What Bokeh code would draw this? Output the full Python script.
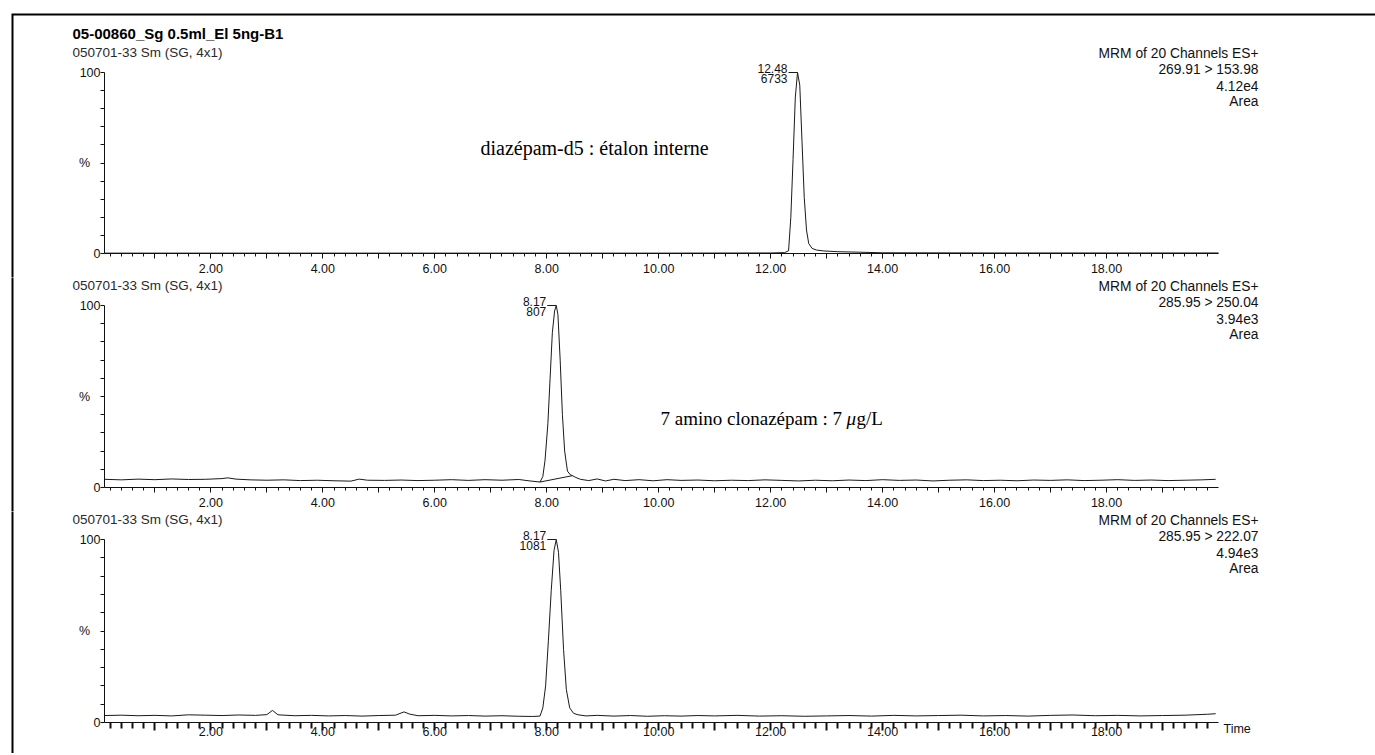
from bokeh.plotting import figure
from bokeh.models import Range1d, FixedTicker, CustomJSTickFormatter, Label
from bokeh.layouts import column
from bokeh.embed import file_html
from bokeh.resources import INLINE

# ---------------- data ----------------
sample_title = "05-00860_Sg 0.5ml_El 5ng-B1"
run_label = "050701-33 Sm (SG, 4x1)"
channel_header = "MRM of 20 Channels ES+"
transitions = ["269.91 > 153.98", "285.95 > 250.04", "285.95 > 222.07"]
intensities = ["4.12e4", "3.94e3", "4.94e3"]
peak_rt = [12.48, 8.17, 8.17]
peak_area = [6733, 807, 1081]
compound_notes = ["diazépam-d5 : étalon interne", "7 amino clonazépam : 7 ", None]

time_1 = [0.10, 2.00, 4.00, 6.00, 8.00, 10.00, 12.00,
          12.25, 12.32, 12.36, 12.40, 12.44, 12.48,
          12.52, 12.56, 12.60, 12.64, 12.68, 12.74,
          12.82, 12.95, 13.20, 13.60, 14.00, 16.00, 18.00, 20.00]
pct_1 = [0.2, 0.2, 0.2, 0.2, 0.2, 0.2, 0.3,
         0.5, 1.5, 20.0, 52.0, 86.0, 100.0,
         93.0, 62.0, 31.0, 13.0, 5.5, 2.8,
         1.9, 1.4, 1.0, 0.7, 0.4, 0.3, 0.3, 0.3]

time_2 = [0.10, 0.40, 0.70, 1.00, 1.30, 1.60, 1.90, 2.20, 2.30, 2.45,
          2.70, 3.00, 3.30, 3.60, 3.90, 4.20, 4.50, 4.65, 4.80, 5.10,
          5.40, 5.70, 6.00, 6.30, 6.60, 6.90, 7.20, 7.50, 7.70, 7.88,
          7.93, 7.97, 8.02, 8.06, 8.10, 8.14, 8.17, 8.20, 8.24, 8.28,
          8.32, 8.37, 8.42, 8.46, 8.52, 8.60, 8.75, 8.90, 9.05, 9.20,
          9.40, 9.65, 9.90, 10.15, 10.40, 10.70, 11.00, 11.30, 11.60, 11.90,
          12.20, 12.50, 12.80, 13.10, 13.40, 13.70, 14.00, 14.30, 14.60, 14.90,
          15.20, 15.50, 15.80, 16.10, 16.40, 16.70, 17.00, 17.30, 17.60, 17.90,
          18.20, 18.50, 18.80, 19.10, 19.40, 19.70, 19.95]
pct_2 = [4.5, 4.2, 4.6, 4.3, 4.7, 4.4, 4.5, 4.9, 5.3, 4.6,
         4.2, 4.0, 4.2, 3.8, 4.0, 3.7, 3.5, 4.6, 4.0, 3.9,
         4.1, 3.8, 4.0, 4.3, 3.9, 4.3, 4.0, 4.4, 3.6, 3.0,
         6.0, 15.0, 35.0, 60.0, 85.0, 97.0, 100.0, 95.0, 70.0, 40.0,
         20.0, 9.0, 7.0, 6.5, 5.5, 4.5, 3.8, 4.7, 3.6, 4.5,
         3.8, 4.3, 3.7, 4.3, 3.9, 4.1, 3.7, 4.0, 3.8, 4.2,
         3.9, 3.6, 4.0, 3.7, 4.1, 3.8, 4.3, 3.9, 4.1, 3.6,
         4.0, 4.2, 3.8, 4.0, 3.7, 4.1, 3.9, 4.2, 3.8, 4.0,
         4.3, 3.9, 4.1, 3.8, 4.0, 4.2, 4.5]
baseline_2_t = [7.88, 8.46]
baseline_2_pct = [3.0, 6.5]

time_3 = [0.10, 0.40, 0.70, 1.00, 1.30, 1.60, 1.90, 2.20, 2.50, 2.80,
          3.00, 3.10, 3.20, 3.50, 3.80, 4.10, 4.40, 4.70, 5.00, 5.30,
          5.45, 5.55, 5.70, 6.00, 6.30, 6.60, 6.90, 7.20, 7.50, 7.75,
          7.88, 7.93, 7.98, 8.03, 8.08, 8.13, 8.17, 8.21, 8.25, 8.30,
          8.35, 8.41, 8.48, 8.56, 8.70, 8.90, 9.20, 9.50, 9.80, 10.10,
          10.40, 10.70, 11.00, 11.40, 11.80, 12.20, 12.60, 13.00, 13.40, 13.80,
          14.20, 14.60, 15.00, 15.40, 15.80, 16.20, 16.60, 17.00, 17.40, 17.80,
          18.20, 18.60, 19.00, 19.40, 19.80, 19.95]
pct_3 = [3.8, 4.0, 3.7, 3.9, 3.6, 4.2, 4.0, 3.8, 4.1, 3.9,
         4.3, 6.6, 4.2, 3.7, 3.9, 3.6, 3.8, 3.5, 3.8, 4.0,
         5.8, 4.6, 3.7, 3.9, 3.6, 3.8, 3.5, 3.7, 3.4, 3.3,
         3.5, 8.0, 20.0, 45.0, 72.0, 94.0, 100.0, 93.0, 72.0, 40.0,
         18.0, 8.0, 5.0, 4.2, 3.6, 3.9, 3.5, 3.8, 3.4, 3.7,
         3.5, 3.8, 3.6, 3.9, 3.5, 3.7, 3.4, 3.6, 3.8, 3.5,
         3.9, 3.6, 3.8, 4.0, 3.6, 3.8, 3.5, 3.9, 4.1, 3.7,
         3.9, 3.6, 3.8, 4.0, 4.5, 4.8]

# ---------------- layout constants ----------------
W = 1375
AX_LEFT_PX, AX_RIGHT_PX = 104, 1218      # canvas px of t = 0.1 and t = 20.0
T0, T1 = 0.1, 20.0
SX = (AX_RIGHT_PX - AX_LEFT_PX) / (T1 - T0)
SANS = "Liberation Sans"
SERIF = "Liberation Serif"
INK = "#111111"


def make_panel(idx, t, y, H, zero_px, hundred_px, sub_px,
               title=False, bold_ticks=False, time_label=False, top_border=False):
    sy = (zero_px - hundred_px) / 100.0

    def dx(X):
        return T0 + (X - AX_LEFT_PX) / SX

    def dy(Y):
        return (zero_px - Y) / sy

    # frame covers the whole canvas; axes are pinned with fixed_location
    p = figure(width=W, height=H, x_range=Range1d(dx(0), dx(W)), y_range=Range1d(dy(H), dy(0)),
               min_border=0, min_border_left=0, min_border_right=0,
               min_border_top=0, min_border_bottom=0,
               output_backend="svg", toolbar_location=None,
               background_fill_color="white", border_fill_color="white")
    p.outline_line_color = None
    p.xgrid.visible = False
    p.ygrid.visible = False

    # x axis
    xa = p.xaxis[0]
    xa.fixed_location = 0
    xa.bounds = (T0, T1)
    xa.ticker = FixedTicker(ticks=list(range(1, 20)),
                            minor_ticks=[round(0.2 * k, 1) for k in range(1, 100) if k % 5])
    xa.formatter = CustomJSTickFormatter(code="return (Math.round(tick) % 2 === 0) ? tick.toFixed(2) : '';")
    xa.axis_line_color = INK
    xa.major_tick_line_color = INK
    xa.minor_tick_line_color = INK
    xa.major_label_text_font = SANS
    xa.major_label_text_font_size = "12.5px"
    xa.major_label_text_color = INK
    xa.major_tick_in = 0
    xa.minor_tick_in = 0
    if bold_ticks:
        xa.major_tick_out = 8
        xa.minor_tick_out = 6
        xa.major_tick_line_width = 2
        xa.minor_tick_line_width = 2
        xa.major_label_standoff = -4
    else:
        xa.major_tick_out = 5
        xa.minor_tick_out = 3
        xa.major_label_standoff = 5

    # y axis
    ya = p.yaxis[0]
    ya.fixed_location = T0
    ya.bounds = (0, 100)
    ya.ticker = FixedTicker(ticks=[0, 50, 100], minor_ticks=[10, 20, 30, 40, 60, 70, 80, 90])
    ya.formatter = CustomJSTickFormatter(
        code="return tick == 50 ? '%\\u00a0\\u00a0\\u00a0' : tick.toFixed(0);")
    ya.axis_line_color = INK
    ya.major_tick_line_color = INK
    ya.minor_tick_line_color = INK
    ya.major_tick_in = 0
    ya.minor_tick_in = 0
    ya.major_tick_out = 4
    ya.minor_tick_out = 4
    ya.major_label_standoff = 0
    ya.major_label_text_font = SANS
    ya.major_label_text_font_size = "12.5px"
    ya.major_label_text_color = INK

    # trace
    p.line(x=t, y=y, line_color="#1a1a1a", line_width=1)

    # peak annotation
    rt = peak_rt[idx]
    apex = max(y)
    p.segment(x0=[rt - 9 / SX], y0=[apex], x1=[rt], y1=[apex], line_color="#1a1a1a", line_width=1)
    p.add_layout(Label(x=rt, y=apex, x_offset=-10, y_offset=0, text=f"{rt:.2f}",
                       text_align="right", text_baseline="bottom", text_font=SANS,
                       text_font_size="12px", text_color=INK))
    p.add_layout(Label(x=rt, y=apex, x_offset=-10, y_offset=-1, text=f"{peak_area[idx]}",
                       text_align="right", text_baseline="top", text_font=SANS,
                       text_font_size="12px", text_color=INK))

    def lab(text, X, Y, align="left", size="13.5px", style="normal", font=SANS, color=INK):
        p.add_layout(Label(x=dx(X), y=dy(Y), text=text, text_align=align,
                           text_baseline="middle", text_font=font, text_font_size=size,
                           text_font_style=style, text_color=color))

    # header texts
    if title:
        lab(sample_title, 72, sub_px - 19, size="15px", style="bold", color="#000000")
    lab(run_label, 72, sub_px, color="#2a2a2a")
    right_rows = [channel_header, transitions[idx], intensities[idx], "Area"]
    for k, txt in enumerate(right_rows):
        lab(txt, 1258, sub_px + 1 + 16 * k, align="right", size="13.8px")

    if time_label:
        lab("Time", AX_RIGHT_PX + 5, zero_px + 6, size="12.5px")

    # scanned page frame: left edge (and top edge on the first panel)
    if top_border:
        p.line(x=[dx(12), dx(12), dx(W + 20)], y=[dy(H + 6), dy(14), dy(14)],
               line_color="#000000", line_width=2, line_join="miter")
    else:
        p.line(x=[dx(12), dx(12)], y=[dy(H + 6), dy(-6)],
               line_color="#000000", line_width=2)
    return p, lab


p1, lab1 = make_panel(0, time_1, pct_1, 277, 253, 72, 52, title=True, top_border=True)
lab1(compound_notes[0], 480, 147, font=SERIF, size="20px", color="#000000")

p2, lab2 = make_panel(1, time_2, pct_2, 234, 210, 28, 8)
p2.line(x=baseline_2_t, y=baseline_2_pct, line_color="#1a1a1a", line_width=1)
lab2(compound_notes[1], 660, 141, font=SERIF, size="19px", color="#000000")
lab2("μ", 846, 141, font=SERIF, size="19px", style="italic", color="#000000")
lab2("g/L", 856, 141, font=SERIF, size="19px", color="#000000")

p3, lab3 = make_panel(2, time_3, pct_3, 242, 211, 28, 8, bold_ticks=True, time_label=True)

layout = column(p1, p2, p3)
open("out.html", "w").write(file_html(layout, INLINE))
